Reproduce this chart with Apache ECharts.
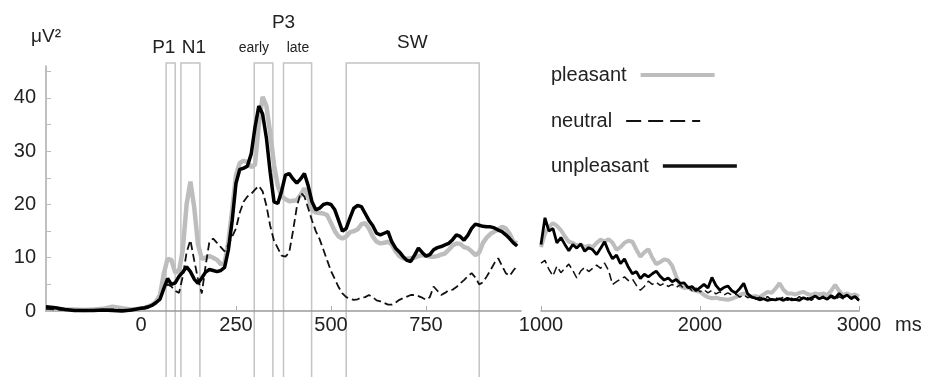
<!DOCTYPE html>
<html><head><meta charset="utf-8">
<script src="https://cdn.jsdelivr.net/npm/echarts@6/dist/echarts.min.js"></script>
<style>html,body{margin:0;padding:0;background:#fff}#c{width:925px;height:377px}</style>
</head><body><div id="c"></div>
<script>
// ---- time bases (ms) ----
const leftTimes = [-250,-225,-200,-175,-150,-125,-100,-75,-50,-25,0,
  10,20,30,40,50,60,70,80,90,100,
  110,120,130,140,150,160,170,180,190,200,
  210,220,230,240,250,260,270,280,290,300,
  310,320,330,340,350,360,370,380,390,400,
  410,420,430,440,450,460,470,480,490,500,
  510,520,530,540,550,560,570,580,590,600,
  610,620,630,640,650,660,670,680,690,700,
  710,720,730,740,750,760,770,780,790,800,
  810,820,830,840,850,860,870,880,890,900,
  910,920,930,940,950,960,970,980,990];

const rightTimes = [1000,1025,1050,1075,1100,1125,1150,1175,1200,1225,
  1250,1275,1300,1325,1350,1375,1400,1425,1450,1475,
  1500,1525,1550,1575,1600,1625,1650,1675,1700,1725,
  1750,1775,1800,1825,1850,1875,1900,1925,1950,1975,
  2000,2025,2050,2075,2100,2125,2150,2175,2200,2225,
  2250,2275,2300,2325,2350,2375,2400,2425,2450,2475,
  2500,2525,2550,2575,2600,2625,2650,2675,2700,2725,
  2750,2775,2800,2825,2850,2875,2900,2925,2950,2975,3000];

// ---- series values (µV²) ----
const pleasantEarly = [0.6,0.4,0.3,0.3,0.2,0.3,0.4,0.8,0.5,0.3,0.4,
  0.6,0.9,1.2,1.8,3.0,7.0,9.8,9.6,7.2,7.5,
  11.5,20.0,24.3,19.5,12.5,9.8,10.0,10.3,10.0,9.6,
  8.8,9.0,13.0,19.0,25.5,27.8,28.2,28.0,27.0,27.5,
  35.0,40.2,38.5,33.4,27.5,23.5,21.5,21.0,20.6,20.7,
  20.8,21.8,23.0,21.5,19.0,18.5,18.4,18.3,18.0,16.5,
  15.0,14.0,13.6,14.0,14.8,15.0,15.3,16.3,16.5,15.5,
  14.0,13.0,12.7,12.8,13.0,12.5,11.2,10.3,9.9,9.8,
  9.9,10.0,10.3,10.5,10.4,10.2,10.2,10.3,10.6,10.8,
  11.5,12.3,12.7,12.6,12.0,11.8,11.2,10.5,11.0,12.8,
  13.8,14.5,14.9,15.3,15.8,15.5,14.5,13.0,12.7];

const neutralEarly = [0.4,0.3,0.2,0.2,0.2,0.2,0.2,0.3,0.2,0.3,0.4,
  0.5,0.7,1.0,1.5,2.5,4.0,5.0,4.6,3.8,3.4,
  6.5,11.0,13.3,9.5,6.0,3.3,8.5,13.0,13.6,12.8,
  12.0,11.2,12.5,14.0,15.5,18.5,20.5,21.5,22.0,22.8,
  23.5,22.5,19.8,16.0,13.2,11.8,10.4,10.2,11.0,15.0,
  19.5,22.2,21.5,19.3,17.0,15.0,13.5,11.5,9.5,7.5,
  6.0,4.5,3.3,2.6,2.3,2.1,2.2,2.5,2.6,3.0,
  2.6,2.0,1.8,1.5,1.2,1.2,1.6,2.1,2.4,2.7,
  3.0,3.0,2.8,2.5,2.1,2.6,4.6,3.8,3.0,3.4,
  3.9,4.0,4.5,5.2,5.8,6.5,7.1,6.3,5.0,5.4,
  6.5,7.7,9.0,9.9,8.5,7.1,6.6,7.6,8.5];

const unpleasantEarly = [0.8,0.6,0.3,0.1,0.1,0.1,0.2,0.1,0.0,0.2,0.5,
  0.6,0.8,1.1,1.6,2.2,4.2,6.1,5.0,5.3,6.5,
  7.3,8.3,7.4,6.0,5.2,6.2,7.3,7.8,7.6,7.4,
  7.6,8.2,11.5,17.0,24.0,26.6,26.8,27.2,29.5,34.5,
  38.5,37.0,32.5,26.0,20.5,20.2,22.5,25.5,25.8,24.8,
  24.0,24.8,25.8,23.5,20.5,19.0,19.3,20.0,20.2,20.0,
  19.0,17.0,15.0,15.5,17.5,19.3,19.8,19.6,18.3,17.0,
  16.0,14.6,14.3,14.6,14.9,13.0,11.8,11.1,10.2,9.5,
  9.3,10.5,11.8,11.0,10.3,10.6,11.5,11.9,12.1,12.4,
  12.7,13.4,14.3,14.0,13.3,14.2,15.5,16.3,16.1,15.9,
  15.8,15.8,15.6,15.2,14.9,14.3,13.6,12.8,12.2];

const pleasantLate = [12.0,14.5,15.8,16.5,16.0,15.2,14.0,13.0,12.8,12.3,
  12.5,12.0,12.3,12.0,12.8,13.4,13.0,13.5,12.8,11.5,
  12.0,12.8,13.2,13.0,11.5,10.2,11.0,11.6,10.0,8.8,
  9.2,9.7,9.5,8.5,6.5,4.7,4.3,4.4,4.0,3.8,
  3.6,3.0,2.6,2.4,2.5,2.3,2.2,2.1,2.3,2.6,
  3.0,3.3,3.0,2.7,2.8,2.6,3.1,3.6,3.4,4.2,
  5.2,4.0,3.3,3.3,3.1,3.4,3.6,3.2,3.0,3.3,
  3.1,3.3,3.0,3.8,4.9,3.8,3.0,3.3,2.9,3.1,2.7];

const neutralLate = [9.0,9.5,7.8,6.6,8.4,7.2,8.0,8.8,7.6,6.2,
  7.5,8.2,7.4,8.0,8.6,8.0,9.0,7.6,5.0,5.5,
  6.0,6.4,5.7,6.0,4.8,3.9,4.6,5.6,5.0,5.4,
  4.8,5.2,4.6,5.0,4.4,4.9,4.2,4.6,3.8,4.3,
  3.6,4.0,3.4,3.9,3.2,3.6,3.0,3.4,3.0,3.2,
  2.6,3.0,2.5,2.8,2.2,2.6,2.3,2.7,2.1,2.5,
  2.2,2.6,2.0,2.4,2.1,2.7,2.2,2.5,2.0,2.6,
  2.3,2.8,2.2,2.6,2.1,2.7,2.3,2.9,2.2,2.5,1.9];

const unpleasantLate = [12.5,17.5,15.0,15.5,12.8,13.8,12.5,11.3,12.5,11.8,
  12.6,11.2,11.9,11.5,10.6,11.8,13.0,11.2,9.8,10.5,
  8.9,9.8,8.2,7.0,7.4,6.1,6.9,6.4,7.0,7.5,
  6.5,5.8,6.2,5.5,5.9,5.2,5.3,4.4,4.6,3.8,
  4.4,5.0,4.3,6.3,4.8,3.9,4.4,4.7,3.8,3.4,
  4.2,5.2,3.2,2.6,2.4,2.1,2.3,2.0,2.2,2.1,
  2.3,2.0,2.4,2.1,2.2,2.0,2.5,2.2,2.4,2.8,
  2.3,2.6,2.2,2.9,2.4,3.3,2.6,3.0,2.4,2.7,2.0];

// ---- axis ticks / labels ----
const yTickLabels = [0, 10, 20, 30, 40];
const leftXLabels = [0, 250, 500, 750];
const rightXLabels = [1000, 2000, 3000];
const seriesNames = ['pleasant', 'neutral', 'unpleasant'];

// ---- ERP component windows (ms) ----
const windowNames = ['P1', 'N1', 'P3 early', 'P3 late', 'SW'];
const windowStart = [66, 105, 298, 375, 540];
const windowEnd = [90, 155, 347, 449, 890];
// annotation labels (text, ms position)
const annotText = ['P1', 'N1', 'early', 'late', 'P3', 'SW'];
const annotAt = [60, 139, 297, 413, 375, 714];

// ---------------------------------------------------------------
const zip = (t, v) => t.map((x, i) => [x, v[i]]);
const FONT = 'Liberation Sans, Arial, sans-serif';
const styles = {
  pleasant: {color: '#bdbdbd', width: 4.5, type: 'solid'},
  neutral: {color: '#111', width: 1.8, type: [8, 4]},
  unpleasant: {color: '#000', width: 3.5, type: 'solid'}
};
const legendLine = {
  pleasant: {color: '#bdbdbd', width: 4, type: 'solid'},
  neutral: {color: '#111', width: 2, type: [15, 7]},
  unpleasant: {color: '#111', width: 3.5, type: 'solid'}
};
const lateWidth = {pleasant: 4, neutral: 1.5, unpleasant: 2.8};
const early = {pleasant: pleasantEarly, neutral: neutralEarly, unpleasant: unpleasantEarly};
const late = {pleasant: pleasantLate, neutral: neutralLate, unpleasant: unpleasantLate};

const series = [];
seriesNames.forEach(n => {
  series.push({name: n, type: 'line', xAxisIndex: 0, yAxisIndex: 0, symbol: 'none', clip: false,
    data: zip(leftTimes, early[n]), lineStyle: Object.assign({}, styles[n]), itemStyle: {color: styles[n].color},
    emphasis: {disabled: true}, animation: false});
});
seriesNames.forEach(n => {
  series.push({name: n, type: 'line', xAxisIndex: 1, yAxisIndex: 1, symbol: 'none', clip: false,
    data: zip(rightTimes, late[n]), lineStyle: Object.assign({}, styles[n], {width: lateWidth[n]}), itemStyle: {color: styles[n].color},
    emphasis: {disabled: true}, animation: false});
});

const axisLineStyle = {color: '#9a9a9a', width: 1.5};
const labelStyle = {color: '#222', fontSize: 20, fontFamily: FONT};
const legendTops = [65, 111, 156];

const option = {
  animation: false,
  backgroundColor: '#fff',
  textStyle: {fontFamily: FONT},
  grid: [
    {left: 46, right: 404, top: 66, bottom: 66},
    {left: 541, right: 66, top: 66, bottom: 66}
  ],
  xAxis: [
    {type: 'value', gridIndex: 0, min: -250, max: 1000, interval: 250,
      axisLine: {lineStyle: axisLineStyle}, splitLine: {show: false},
      axisTick: {inside: true, length: 5, lineStyle: {color: '#aaa'}},
      axisLabel: Object.assign({margin: 4, showMinLabel: false, showMaxLabel: false,
        formatter: v => leftXLabels.indexOf(v) >= 0 ? String(v) : ''}, labelStyle)},
    {type: 'value', gridIndex: 1, min: 1000, max: 3000, interval: 1000,
      axisLine: {lineStyle: axisLineStyle}, splitLine: {show: false},
      axisTick: {inside: true, length: 5, lineStyle: {color: '#aaa'}},
      axisLabel: Object.assign({margin: 4,
        formatter: v => rightXLabels.indexOf(v) >= 0 ? String(v) : ''}, labelStyle),
      name: 'ms', nameLocation: 'end', nameGap: 36,
      nameTextStyle: {color: '#222', fontSize: 20, fontFamily: FONT, verticalAlign: 'top', lineHeight: 20, padding: [4, 0, 0, 0]}}
  ],
  yAxis: [
    {type: 'value', gridIndex: 0, min: 0, max: 46, interval: 5,
      axisLine: {show: true, onZero: false, lineStyle: {color: '#aaa', width: 1.5}}, splitLine: {show: false},
      axisTick: {show: true, inside: true, length: 5, lineStyle: {color: '#bbb'}},
      axisLabel: Object.assign({margin: 10, showMaxLabel: false,
        formatter: v => yTickLabels.indexOf(v) >= 0 ? String(v) : ''}, labelStyle),
      name: 'μV²', nameLocation: 'end', nameGap: 20,
      nameTextStyle: {color: '#222', fontSize: 19, fontFamily: FONT}},
    {type: 'value', gridIndex: 1, min: 0, max: 46, interval: 5, show: false}
  ],
  legend: seriesNames.map((n, i) => ({
    orient: 'horizontal', align: 'right', left: 551, top: legendTops[i], padding: 0,
    itemWidth: 74, itemHeight: 20, selectedMode: false,
    textStyle: {color: '#222', fontSize: 20, fontFamily: FONT, lineHeight: 20, padding: [0, 9, 0, 0]},
    data: [{name: n, itemStyle: {opacity: 0}, lineStyle: legendLine[n]}]
  })),
  series: series
};

const chart = echarts.init(document.getElementById('c'), null, {renderer: 'canvas'});
chart.setOption(option);

// component windows + labels, positioned through the x axis scale
const H = 377, boxTop = 63;
const graphics = [];
windowStart.forEach((s, i) => {
  const x0 = chart.convertToPixel({xAxisIndex: 0}, s);
  const x1 = chart.convertToPixel({xAxisIndex: 0}, windowEnd[i]);
  graphics.push({type: 'rect', z: 0, silent: true,
    shape: {x: x0, y: boxTop, width: x1 - x0, height: H - boxTop + 2},
    style: {fill: 'none', stroke: '#c4c4c4', lineWidth: 1.5}});
});
const annotY = {P1: 48, N1: 48, early: 48, late: 48, P3: 23, SW: 43};
const annotSize = {P1: 19, N1: 19, early: 14, late: 14, P3: 19, SW: 19};
annotText.forEach((t, i) => {
  graphics.push({type: 'text', z: 5, silent: true,
    x: chart.convertToPixel({xAxisIndex: 0}, annotAt[i]), y: annotY[t],
    style: {text: t, fill: '#222', font: annotSize[t] + 'px ' + FONT, textAlign: 'center', textVerticalAlign: 'middle'}});
});
chart.setOption({graphic: graphics});
</script>
</body></html>
